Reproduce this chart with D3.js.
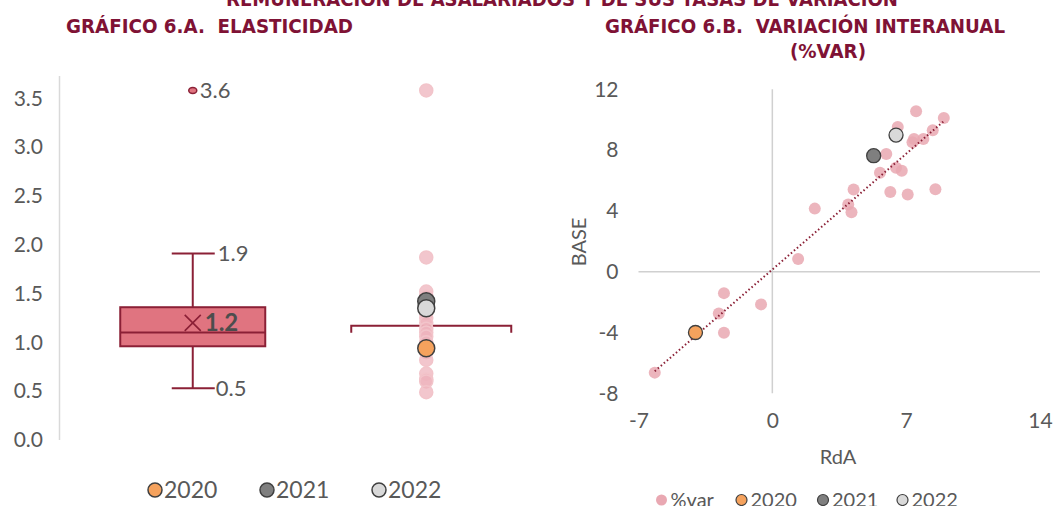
<!DOCTYPE html>
<html>
<head>
<meta charset="utf-8">
<script src="https://cdn.jsdelivr.net/npm/d3@7"></script>
<style>
  body { margin: 0; background: #fff; }
  svg { display: block; font-family: Lato, "Open Sans", sans-serif; }
</style>
</head>
<body>
<div id="chart"></div>
<script>
// chart 6.A: elasticity box plot
let boxWhiskers = [0.53, 1.91];
let boxQuartiles = [0.96, 1.10, 1.36];
let boxMean = 1.20;
let boxOutliers = [3.58];
let boxLabels = ["3.6", "1.9", "1.2", "0.5"];
let elastPoints = [3.58, 1.87, 1.52, 1.47, 1.40, 1.30, 1.25, 1.20, 1.14, 1.10, 1.06, 1.00, 0.90, 0.82, 0.68, 0.62, 0.60, 0.49];
let elastBracket = 1.17;
let elastTicks = [0, 0.5, 1, 1.5, 2, 2.5, 3, 3.5];

// chart 6.B: %var RdA vs BASE
let rdaVar = [-6.15, -4.02, -2.80, -2.53, -2.53, -0.59, 1.35, 2.22, 3.97, 4.14, 4.25, 5.30, 5.63, 5.96, 6.17, 6.47, 6.77, 6.56, 6.47, 7.08, 7.33, 7.41, 7.52, 7.90, 8.39, 8.53, 8.97];
let baseVar = [-6.64, -4.00, -2.75, -1.41, -4.02, -2.15, 0.84, 4.15, 4.42, 3.91, 5.41, 7.63, 6.51, 7.74, 5.25, 6.84, 6.64, 9.52, 8.99, 5.08, 8.51, 8.73, 10.55, 8.73, 9.30, 5.43, 10.11];
let xTicks = [-7, 0, 7, 14];
let yTicks = [-8, -4, 0, 4, 8, 12];

// highlighted years
let years = ["2020", "2021", "2022"];
let yearElast = [0.94, 1.42, 1.35];
let yearRdA = [-4.02, 5.30, 6.47];
let yearBase = [-4.00, 7.63, 8.99];
let yearColors = ["#f5a25d", "#7f7f7f", "#d9d9d9"];

let colorTitle = "#7f1235";
let colorText = "#595959";
let colorDark = "#8b2036";
let colorBox = "#e07480";
let colorPink = "#eeb3bc";

let width = 1053,
    height = 506;

let svg = d3.select("#chart")
    .append("svg")
    .attr("width", width)
    .attr("height", height);

// titles
let titles = [
    {text: "REMUNERACIÓN DE ASALARIADOS Y DE SUS TASAS DE VARIACIÓN", x: 226, y: 6, w: 672},
    {text: "GRÁFICO 6.A.  ELASTICIDAD", x: 66, y: 33, w: 287},
    {text: "GRÁFICO 6.B.  VARIACIÓN INTERANUAL", x: 605, y: 33, w: 400},
    {text: "(%VAR)", x: 790, y: 58, w: 76}
];
svg.selectAll(".title")
    .data(titles)
    .enter()
    .append("text")
    .attr("class", "title")
    .attr("x", d => d.x)
    .attr("y", d => d.y)
    .attr("textLength", d => d.w)
    .attr("lengthAdjust", "spacingAndGlyphs")
    .style("white-space", "pre")
    .style("font-family", "'DejaVu Sans', sans-serif")
    .style("font-weight", "bold")
    .style("font-size", "20px")
    .style("fill", colorTitle)
    .text(d => d.text);

// ---------- left chart ----------
let gl = svg.append("g");

let yL = d3.scaleLinear()
    .domain([0, 3.5])
    .range([440, 98.3]);

let xL = d3.scaleBand()
    .domain(["box", "points"])
    .range([76, 543]);

gl.append("line")
    .attr("x1", 59.5).attr("x2", 59.5)
    .attr("y1", 76).attr("y2", 440)
    .style("stroke", "#d9d9d9")
    .style("stroke-width", 1.5);

let axL = gl.append("g")
    .attr("transform", "translate(59,0)")
    .call(d3.axisLeft(yL).tickValues(elastTicks).tickFormat(d3.format(".1f")).tickSize(0).tickPadding(16));
axL.select(".domain").remove();
axL.selectAll("text")
    .style("font-family", "Lato, sans-serif")
    .style("font-size", "21px")
    .style("fill", colorText);

let cx = xL("box") + xL.bandwidth() / 2;
let boxW = 145;

// whiskers
gl.selectAll(".whisker")
    .data(boxWhiskers)
    .enter()
    .append("line")
    .attr("x1", cx)
    .attr("x2", cx)
    .attr("y1", d => yL(d))
    .attr("y2", (d, i) => yL(i == 0 ? boxQuartiles[0] : boxQuartiles[2]))
    .style("stroke", colorDark)
    .style("stroke-width", 2);

gl.selectAll(".cap")
    .data(boxWhiskers)
    .enter()
    .append("line")
    .attr("x1", cx - 21)
    .attr("x2", cx + 22)
    .attr("y1", d => yL(d))
    .attr("y2", d => yL(d))
    .style("stroke", colorDark)
    .style("stroke-width", 2);

// box
gl.append("rect")
    .attr("x", cx - boxW / 2)
    .attr("y", yL(boxQuartiles[2]))
    .attr("width", boxW)
    .attr("height", yL(boxQuartiles[0]) - yL(boxQuartiles[2]))
    .style("fill", colorBox)
    .style("stroke", colorDark)
    .style("stroke-width", 2);

gl.append("line")
    .attr("x1", cx - boxW / 2)
    .attr("x2", cx + boxW / 2)
    .attr("y1", yL(boxQuartiles[1]))
    .attr("y2", yL(boxQuartiles[1]))
    .style("stroke", colorDark)
    .style("stroke-width", 2);

// mean marker
gl.append("path")
    .attr("d", d3.symbol(d3.symbolX, 170)())
    .attr("transform", "translate(" + cx + "," + yL(boxMean) + ")")
    .style("stroke", colorDark)
    .style("stroke-width", 1.6)
    .style("fill", "none");

// outlier
gl.selectAll(".outlier")
    .data(boxOutliers)
    .enter()
    .append("ellipse")
    .attr("cx", cx)
    .attr("cy", d => yL(d))
    .attr("rx", 4)
    .attr("ry", 3)
    .style("fill", colorBox)
    .style("stroke", colorDark)
    .style("stroke-width", 1.5);

// data labels
let labelPos = [
    {v: boxOutliers[0], dx: 7, bold: false},
    {v: boxWhiskers[1], dx: 25, bold: false},
    {v: boxMean, dx: 12, bold: true},
    {v: boxWhiskers[0], dx: 23, bold: false}
];
gl.selectAll(".boxlabel")
    .data(labelPos)
    .enter()
    .append("text")
    .attr("x", d => cx + d.dx)
    .attr("y", d => yL(d.v))
    .attr("dy", "0.36em")
    .style("font-size", d => d.bold ? "24px" : "22px")
    .style("font-weight", d => d.bold ? "bold" : "normal")
    .style("fill", d => d.bold ? "#4d4d4d" : colorText)
    .text((d, i) => boxLabels[i]);

// second column: points and bracket
let px = xL("points") + xL.bandwidth() / 2;
let bx1 = px - 75, bx2 = px + 85;
gl.append("path")
    .attr("d", "M" + bx1 + "," + (yL(elastBracket) + 7) + "V" + yL(elastBracket) +
        "H" + bx2 + "V" + (yL(elastBracket) + 7))
    .style("fill", "none")
    .style("stroke", colorDark)
    .style("stroke-width", 2);

gl.selectAll(".epoint")
    .data(elastPoints)
    .enter()
    .append("circle")
    .attr("cx", px)
    .attr("cy", d => yL(d))
    .attr("r", 6.5)
    .style("fill", colorPink)
    .style("fill-opacity", 0.75)
    .style("stroke", "#f2c4ca")
    .style("stroke-width", 1.5);

gl.selectAll(".eyear")
    .data(yearElast)
    .enter()
    .append("circle")
    .attr("cx", px)
    .attr("cy", d => yL(d))
    .attr("r", 8.5)
    .style("fill", (d, i) => yearColors[i])
    .style("stroke", "#404040")
    .style("stroke-width", 1.5);

// legend left
let legL = gl.selectAll(".legl")
    .data(years)
    .enter()
    .append("g")
    .attr("transform", (d, i) => "translate(" + (155 + i * 112) + ",490)");
legL.append("circle")
    .attr("r", 7)
    .style("fill", (d, i) => yearColors[i])
    .style("stroke", "#404040")
    .style("stroke-width", 1.5);
legL.append("text")
    .attr("x", 9)
    .attr("dy", "0.36em")
    .style("font-size", "23px")
    .style("fill", colorText)
    .text(d => d);

// ---------- right chart ----------
let gr = svg.append("g");

let xR = d3.scaleLinear()
    .domain([-7, 14])
    .range([638.5, 1040]);

let yR = d3.scaleLinear()
    .domain([-8, 12])
    .range([393.3, 89.3]);

gr.append("line")
    .attr("x1", xR(-7)).attr("x2", xR(14))
    .attr("y1", yR(0)).attr("y2", yR(0))
    .style("stroke", "#d0d0d0")
    .style("stroke-width", 1.5);
gr.append("line")
    .attr("x1", xR(0)).attr("x2", xR(0))
    .attr("y1", yR(-8)).attr("y2", yR(12))
    .style("stroke", "#d0d0d0")
    .style("stroke-width", 1.5);

let axRy = gr.append("g")
    .attr("transform", "translate(" + xR(-7) + ",0)")
    .call(d3.axisLeft(yR).tickValues(yTicks).tickFormat(d => String(d)).tickSize(0).tickPadding(20));
let axRx = gr.append("g")
    .attr("transform", "translate(0," + yR(-8) + ")")
    .call(d3.axisBottom(xR).tickValues(xTicks).tickFormat(d => String(d)).tickSize(0).tickPadding(20));
gr.selectAll(".domain").remove();
gr.selectAll(".tick text")
    .style("font-family", "Lato, sans-serif")
    .style("font-size", "21px")
    .style("fill", colorText);

gr.append("text")
    .attr("transform", "translate(586,242) rotate(-90)")
    .attr("text-anchor", "middle")
    .style("font-size", "20px")
    .style("fill", colorText)
    .text("BASE");
gr.append("text")
    .attr("x", 838)
    .attr("y", 464)
    .attr("text-anchor", "middle")
    .style("font-size", "20px")
    .style("fill", colorText)
    .text("RdA");

// points
gr.selectAll(".vpoint")
    .data(rdaVar)
    .enter()
    .append("circle")
    .attr("cx", d => xR(d))
    .attr("cy", (d, i) => yR(baseVar[i]))
    .attr("r", 6)
    .style("fill", "#e9a8b2")
    .style("fill-opacity", 0.85);

// linear trend
let mx = d3.mean(rdaVar), my = d3.mean(baseVar);
let slope = d3.sum(rdaVar, (d, i) => (d - mx) * (baseVar[i] - my)) / d3.sum(rdaVar, d => (d - mx) * (d - mx));
let icpt = my - slope * mx;
let ext = d3.extent(rdaVar);
gr.append("line")
    .attr("x1", xR(ext[0])).attr("y1", yR(icpt + slope * ext[0]))
    .attr("x2", xR(ext[1])).attr("y2", yR(icpt + slope * ext[1]))
    .style("stroke", colorDark)
    .style("stroke-width", 2)
    .style("stroke-dasharray", "1.5,2.5");

gr.selectAll(".ypoint")
    .data(yearRdA)
    .enter()
    .append("circle")
    .attr("cx", d => xR(d))
    .attr("cy", (d, i) => yR(yearBase[i]))
    .attr("r", 7)
    .style("fill", (d, i) => yearColors[i])
    .style("stroke", "#404040")
    .style("stroke-width", 1.3);

// legend right
let legR = gr.selectAll(".legr")
    .data(["%var"].concat(years))
    .enter()
    .append("g")
    .attr("transform", (d, i) => "translate(" + [661.5, 741.5, 823, 902.5][i] + ",500)");
legR.append("circle")
    .attr("r", 5.5)
    .style("fill", (d, i) => i == 0 ? "#e9a8b2" : yearColors[i - 1])
    .style("stroke", (d, i) => i == 0 ? "none" : "#404040")
    .style("stroke-width", 1.2);
legR.append("text")
    .attr("x", 9)
    .attr("dy", "0.36em")
    .style("font-size", "20px")
    .style("fill", colorText)
    .text(d => d);
</script>
</body>
</html>
